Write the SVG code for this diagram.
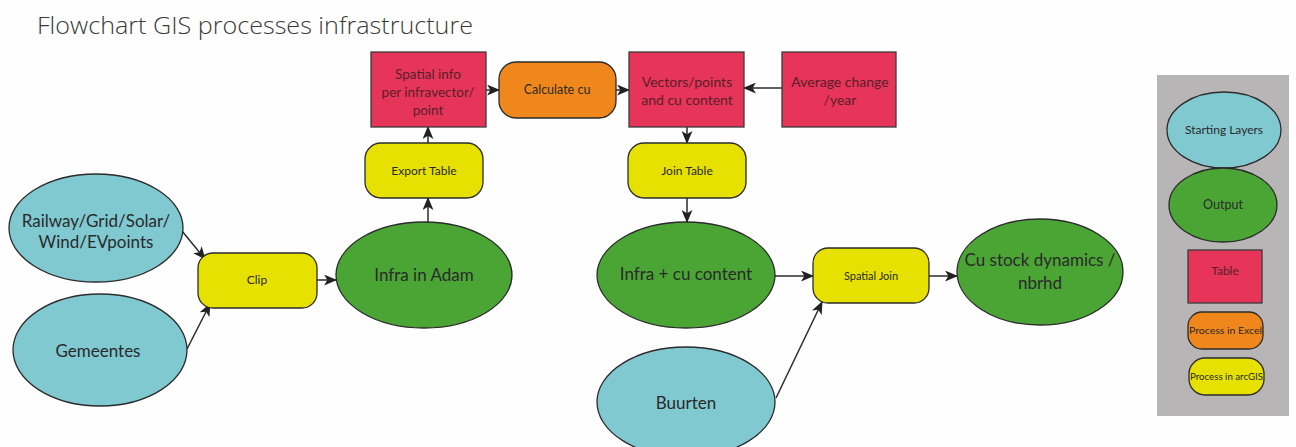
<svg xmlns="http://www.w3.org/2000/svg" width="1296" height="447" viewBox="0 0 1296 447">
<style>
text{font-family:"Lato","Open Sans","Liberation Sans",sans-serif;text-anchor:middle;fill:#2a2a2a}
.title{font-family:"Open Sans","Lato",sans-serif;font-weight:300;text-anchor:start;font-size:24px;fill:#3a3a3a}
.start{fill:#80c9d1;stroke:#2b2b2b;stroke-width:1.3}
.out{fill:#4ba535;stroke:#2b2b2b;stroke-width:1.3}
.tab{fill:#e63558;stroke:#3b3b3b;stroke-width:1.3}
.xl{fill:#f0871c;stroke:#2b2b2b;stroke-width:1.3}
.gis{fill:#e6e100;stroke:#2b2b2b;stroke-width:1.3}
.tt{fill:#5a1e2c}
.conn line{stroke:#2b2b2b;stroke-width:1.5;marker-end:url(#ah)}
</style>
<defs>
<marker id="ah" viewBox="0 0 12 10" refX="11" refY="5" markerWidth="13" markerHeight="11" markerUnits="userSpaceOnUse" orient="auto">
<path d="M0,0 L12,5 L0,10 L3,5 z" fill="#222"/>
</marker>
</defs>
<rect width="1296" height="447" fill="#fefefe"/>
<text class="title" x="37" y="34" textLength="436" lengthAdjust="spacingAndGlyphs">Flowchart GIS processes infrastructure</text>

<g class="conn">
<line x1="486" y1="90" x2="499" y2="90"/>
<line x1="616" y1="90" x2="629" y2="90"/>
<line x1="782" y1="88" x2="744" y2="88"/>
<line x1="687" y1="127" x2="687" y2="143"/>
<line x1="687" y1="198" x2="687" y2="222"/>
<line x1="428" y1="143" x2="428" y2="127"/>
<line x1="428" y1="222" x2="428" y2="198"/>
<line x1="182" y1="231" x2="205" y2="259"/>
<line x1="187" y1="349" x2="210" y2="304"/>
<line x1="317" y1="280" x2="336" y2="280"/>
<line x1="775" y1="276" x2="813" y2="276"/>
<line x1="776" y1="398" x2="822" y2="302"/>
<line x1="929" y1="276" x2="957" y2="276"/>
</g>

<g id="spatial-info">
<rect class="tab" x="371" y="52" width="115" height="75"/>
<text class="tt" x="428" y="79" font-size="13.5">Spatial info</text>
<text class="tt" x="428" y="97" font-size="13.5">per infravector/</text>
<text class="tt" x="428" y="115" font-size="13.5">point</text>
</g>
<g id="calculate-cu">
<rect class="xl" x="499" y="62" width="117" height="56" rx="17"/>
<text x="557" y="94" font-size="12.5">Calculate cu</text>
</g>
<g id="vectors-points">
<rect class="tab" x="629" y="52" width="115" height="75"/>
<text class="tt" x="687" y="87" font-size="14">Vectors/points</text>
<text class="tt" x="687" y="105" font-size="14">and cu content</text>
</g>
<g id="average-change">
<rect class="tab" x="782" y="52" width="114" height="75"/>
<text class="tt" x="840" y="87" font-size="14">Average change</text>
<text class="tt" x="840" y="105" font-size="14">/year</text>
</g>
<g id="export-table">
<rect class="gis" x="365" y="143" width="118" height="55" rx="16"/>
<text x="424" y="175" font-size="12">Export Table</text>
</g>
<g id="join-table">
<rect class="gis" x="628" y="143" width="118" height="55" rx="16"/>
<text x="687" y="175" font-size="12">Join Table</text>
</g>
<g id="railway">
<ellipse class="start" cx="96" cy="228" rx="87" ry="54"/>
<text x="96" y="227" font-size="17">Railway/Grid/Solar/</text>
<text x="96" y="248" font-size="17">Wind/EVpoints</text>
</g>
<g id="gemeentes">
<ellipse class="start" cx="100" cy="350" rx="87" ry="56"/>
<text x="98" y="357" font-size="17">Gemeentes</text>
</g>
<g id="clip">
<rect class="gis" x="198" y="253" width="119" height="55" rx="15"/>
<text x="257" y="284" font-size="12">Clip</text>
</g>
<g id="infra-adam">
<ellipse class="out" cx="424" cy="275" rx="88" ry="53"/>
<text x="424" y="281" font-size="17">Infra in Adam</text>
</g>
<g id="infra-cu">
<ellipse class="out" cx="686" cy="275" rx="89" ry="53"/>
<text x="686" y="280" font-size="17">Infra + cu content</text>
</g>
<g id="spatial-join">
<rect class="gis" x="813" y="248" width="116" height="55" rx="15"/>
<text x="871" y="280" font-size="11">Spatial Join</text>
</g>
<g id="cu-stock">
<ellipse class="out" cx="1040" cy="272" rx="83" ry="53"/>
<text x="1040" y="266" font-size="17">Cu stock dynamics /</text>
<text x="1040" y="289" font-size="17">nbrhd</text>
</g>
<g id="buurten">
<ellipse class="start" cx="686" cy="402" rx="89" ry="55"/>
<text x="686" y="409" font-size="17">Buurten</text>
</g>

<g id="legend">
<rect x="1157" y="75" width="132" height="341" fill="#b7b5b6"/>
<ellipse class="start" cx="1224" cy="130" rx="57" ry="38"/>
<text x="1224" y="134" font-size="12">Starting Layers</text>
<ellipse class="out" cx="1223" cy="205" rx="54" ry="37"/>
<text x="1223" y="209" font-size="12.5">Output</text>
<rect class="tab" x="1188" y="250" width="74" height="53"/>
<text class="tt" x="1225" y="275" font-size="12">Table</text>
<rect class="xl" x="1188" y="312" width="75" height="37" rx="14"/>
<text x="1225.5" y="334" font-size="10" textLength="73" lengthAdjust="spacingAndGlyphs">Process in Excel</text>
<rect class="gis" x="1189" y="358" width="75" height="37" rx="16"/>
<text x="1226.5" y="380" font-size="10" textLength="73" lengthAdjust="spacingAndGlyphs">Process in arcGIS</text>
</g>
</svg>
